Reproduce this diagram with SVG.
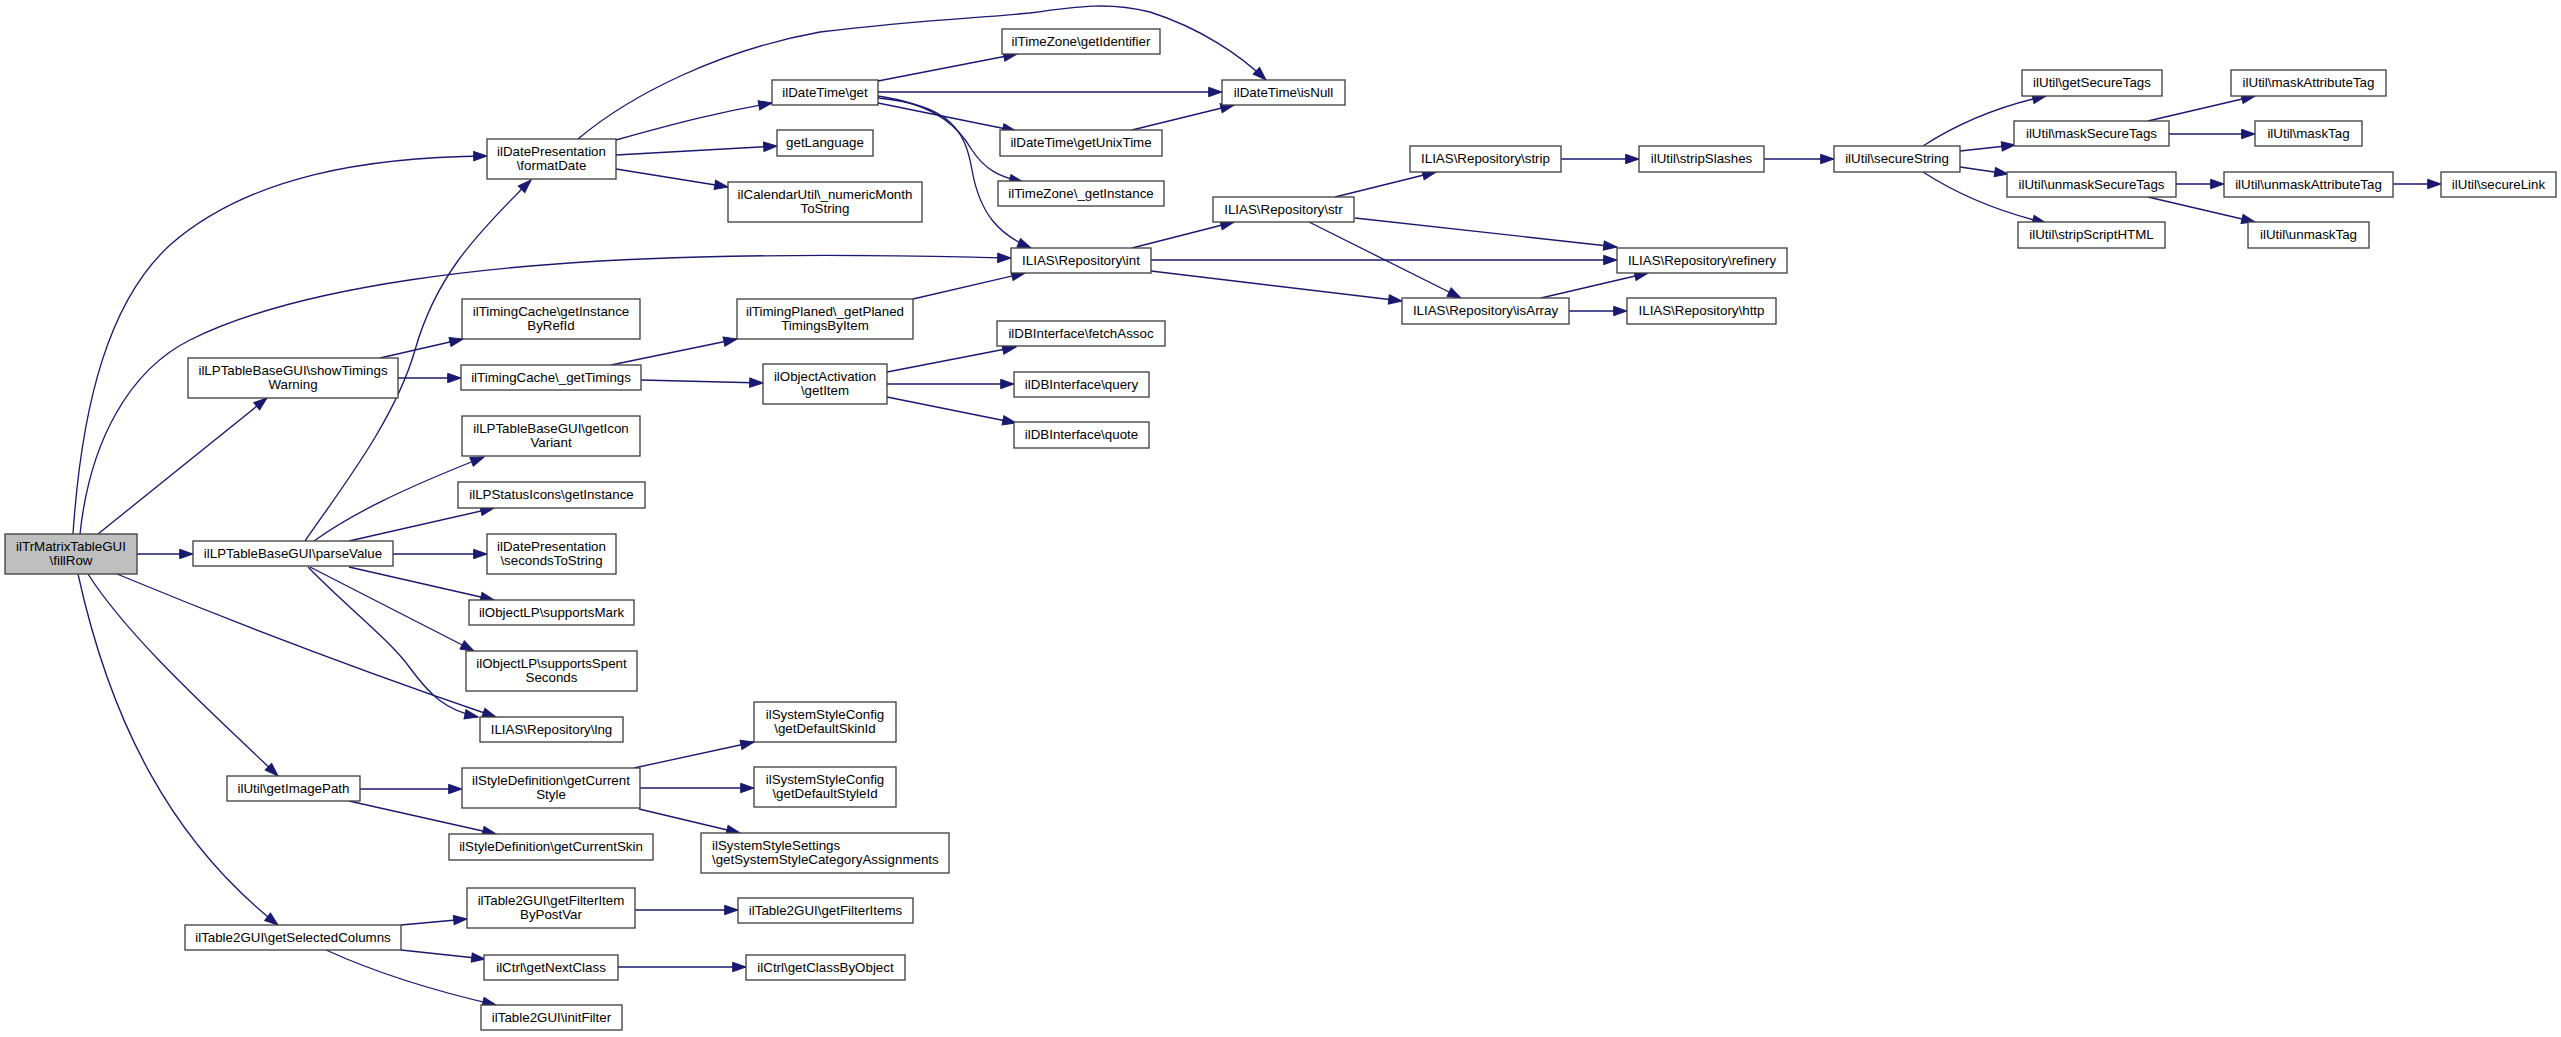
<svg xmlns="http://www.w3.org/2000/svg" width="2561" height="1037" viewBox="0 0 2561 1037">
<style>
.node rect{fill:#ffffff;stroke:#404040;stroke-width:1.33}
.root rect{fill:#bfbfbf}
.node text{font-family:"Liberation Sans",Arial,Helvetica,sans-serif;font-size:13.33px;fill:#000;text-anchor:middle}
.node text.l{text-anchor:start}
#edges path{fill:none;stroke:#191970;stroke-width:1.33;marker-end:url(#arr)}
</style>
<defs>
<marker id="arr" markerUnits="userSpaceOnUse" markerWidth="14" markerHeight="10" refX="13.3" refY="4.67" orient="auto" overflow="visible">
<path d="M0,0 L13.3,4.67 L0,9.33 z" fill="#191970" stroke="#191970" stroke-width="1"/>
</marker>
</defs>
<rect x="0" y="0" width="2561" height="1037" fill="#ffffff"/>
<g id="edges">
<path d="M73,534 C82,400 110,300 170,245 C250,175 370,157 487,156"/>
<path d="M80,534 C90,440 130,370 190,340 C300,285 500,262 700,257 C850,253 950,257 1011,258"/>
<path d="M98,534 L267,398"/>
<path d="M137,554 L193,554"/>
<path d="M117,574 Q300,650 496,717"/>
<path d="M88,574 C130,640 220,720 278,776"/>
<path d="M78,574 C110,720 170,840 278,925"/>
<path d="M305,541 C340,490 395,420 415,350 C435,280 470,240 531,180"/>
<path d="M314,541 C350,515 400,490 484,457"/>
<path d="M349,541 L494,508"/>
<path d="M393,554 L487,554"/>
<path d="M349,567 L494,600"/>
<path d="M310,567 L474,651"/>
<path d="M308,567 C350,610 390,640 410,668 C430,695 445,710 478,717"/>
<path d="M380,358 L463,339"/>
<path d="M398,378 L461,378"/>
<path d="M611,365 L737,339"/>
<path d="M641,380 L763,383"/>
<path d="M913,299 L1025,273"/>
<path d="M887,372 L1016,347"/>
<path d="M887,384 L1014,384"/>
<path d="M887,397 L1016,423"/>
<path d="M578,139 C630,95 720,50 820,32 C920,20 980,18 1030,13 C1080,6 1110,2 1150,12 C1200,28 1240,55 1266,80"/>
<path d="M616,140 C680,122 720,112 772,103"/>
<path d="M616,155 L777,146"/>
<path d="M616,169 L728,187"/>
<path d="M878,81 L1017,54"/>
<path d="M878,92 L1222,92"/>
<path d="M878,103 L1016,131"/>
<path d="M878,96 C940,105 960,130 972,150 C985,170 1000,177 1023,182"/>
<path d="M878,98 C950,105 965,130 972,170 C980,215 1000,235 1031,248"/>
<path d="M1132,130 L1234,105"/>
<path d="M1132,248 L1234,222"/>
<path d="M1151,260 L1617,260"/>
<path d="M1151,271 L1402,301"/>
<path d="M1335,197 L1436,172"/>
<path d="M1355,218 L1617,247"/>
<path d="M1309,222 L1461,298"/>
<path d="M1541,298 L1648,273"/>
<path d="M1569,311 L1627,311"/>
<path d="M1561,159 L1639,159"/>
<path d="M1764,159 L1834,159"/>
<path d="M1923,146 C1960,122 2000,106 2046,96"/>
<path d="M1960,151 L2015,145"/>
<path d="M1960,167 L2008,174"/>
<path d="M1923,172 C1960,196 2000,212 2046,223"/>
<path d="M2148,121 L2255,96"/>
<path d="M2169,134 L2255,134"/>
<path d="M2176,184 L2224,184"/>
<path d="M2148,197 L2255,222"/>
<path d="M2393,184 L2441,184"/>
<path d="M360,789 L462,789"/>
<path d="M349,801 L496,834"/>
<path d="M634,768 L754,742"/>
<path d="M640,788 L754,788"/>
<path d="M639,809 L740,833"/>
<path d="M401,925 L467,919"/>
<path d="M401,950 L485,959"/>
<path d="M326,950 C370,970 430,990 496,1005"/>
<path d="M635,910 L738,910"/>
<path d="M618,967 L746,967"/>
</g>
<g id="n_fillRow" class="node root"><rect x="5" y="534" width="132" height="40"/><text x="71" y="550.5">ilTrMatrixTableGUI</text><text x="71" y="565">\fillRow</text></g>
<g id="n_formatDate" class="node"><rect x="487" y="139" width="129" height="40"/><text x="551.5" y="155.5">ilDatePresentation</text><text x="551.5" y="170">\formatDate</text></g>
<g id="n_int" class="node"><rect x="1011" y="248" width="140" height="25"/><text x="1081" y="264.5">ILIAS\Repository\int</text></g>
<g id="n_showTimings" class="node"><rect x="188" y="358" width="210" height="40"/><text x="293" y="374.5">ilLPTableBaseGUI\showTimings</text><text x="293" y="389">Warning</text></g>
<g id="n_parseValue" class="node"><rect x="193" y="541" width="200" height="25"/><text x="293" y="557.5">ilLPTableBaseGUI\parseValue</text></g>
<g id="n_lng" class="node"><rect x="480" y="717" width="143" height="25"/><text x="551.5" y="733.5">ILIAS\Repository\lng</text></g>
<g id="n_getImagePath" class="node"><rect x="227" y="776" width="133" height="25"/><text x="293.5" y="792.5">ilUtil\getImagePath</text></g>
<g id="n_getSelectedColumns" class="node"><rect x="185" y="925" width="216" height="25"/><text x="293" y="941.5">ilTable2GUI\getSelectedColumns</text></g>
<g id="n_isNull" class="node"><rect x="1222" y="80" width="123" height="25"/><text x="1283.5" y="96.5">ilDateTime\isNull</text></g>
<g id="n_get" class="node"><rect x="772" y="80" width="106" height="25"/><text x="825" y="96.5">ilDateTime\get</text></g>
<g id="n_getLanguage" class="node"><rect x="777" y="130" width="96" height="26"/><text x="825" y="147">getLanguage</text></g>
<g id="n_numericMonth" class="node"><rect x="728" y="182" width="194" height="40"/><text x="825" y="198.5">ilCalendarUtil\_numericMonth</text><text x="825" y="213">ToString</text></g>
<g id="n_getIdentifier" class="node"><rect x="1002" y="29" width="158" height="25"/><text x="1081" y="45.5">ilTimeZone\getIdentifier</text></g>
<g id="n_getUnixTime" class="node"><rect x="1000" y="130" width="162" height="26"/><text x="1081" y="147">ilDateTime\getUnixTime</text></g>
<g id="n_tzGetInstance" class="node"><rect x="998" y="181" width="166" height="25"/><text x="1081" y="197.5">ilTimeZone\_getInstance</text></g>
<g id="n_str" class="node"><rect x="1213" y="197" width="141" height="25"/><text x="1283.5" y="213.5">ILIAS\Repository\str</text></g>
<g id="n_refinery" class="node"><rect x="1617" y="248" width="170" height="25"/><text x="1702" y="264.5">ILIAS\Repository\refinery</text></g>
<g id="n_isArray" class="node"><rect x="1402" y="298" width="167" height="26"/><text x="1485.5" y="315">ILIAS\Repository\isArray</text></g>
<g id="n_strip" class="node"><rect x="1410" y="146" width="151" height="26"/><text x="1485.5" y="163">ILIAS\Repository\strip</text></g>
<g id="n_http" class="node"><rect x="1627" y="298" width="149" height="26"/><text x="1701.5" y="315">ILIAS\Repository\http</text></g>
<g id="n_stripSlashes" class="node"><rect x="1639" y="146" width="125" height="26"/><text x="1701.5" y="163">ilUtil\stripSlashes</text></g>
<g id="n_secureString" class="node"><rect x="1834" y="146" width="126" height="26"/><text x="1897" y="163">ilUtil\secureString</text></g>
<g id="n_getSecureTags" class="node"><rect x="2022" y="70" width="140" height="26"/><text x="2092" y="87">ilUtil\getSecureTags</text></g>
<g id="n_maskSecureTags" class="node"><rect x="2014" y="121" width="155" height="25"/><text x="2091.5" y="137.5">ilUtil\maskSecureTags</text></g>
<g id="n_unmaskSecureTags" class="node"><rect x="2007" y="172" width="169" height="25"/><text x="2091.5" y="188.5">ilUtil\unmaskSecureTags</text></g>
<g id="n_stripScriptHTML" class="node"><rect x="2018" y="222" width="147" height="26"/><text x="2091.5" y="239">ilUtil\stripScriptHTML</text></g>
<g id="n_maskAttributeTag" class="node"><rect x="2231" y="70" width="155" height="26"/><text x="2308.5" y="87">ilUtil\maskAttributeTag</text></g>
<g id="n_maskTag" class="node"><rect x="2255" y="121" width="107" height="25"/><text x="2308.5" y="137.5">ilUtil\maskTag</text></g>
<g id="n_unmaskAttributeTag" class="node"><rect x="2224" y="172" width="169" height="25"/><text x="2308.5" y="188.5">ilUtil\unmaskAttributeTag</text></g>
<g id="n_unmaskTag" class="node"><rect x="2248" y="222" width="121" height="26"/><text x="2308.5" y="239">ilUtil\unmaskTag</text></g>
<g id="n_secureLink" class="node"><rect x="2441" y="172" width="115" height="25"/><text x="2498.5" y="188.5">ilUtil\secureLink</text></g>
<g id="n_getInstanceByRefId" class="node"><rect x="462" y="299" width="178" height="40"/><text x="551" y="315.5">ilTimingCache\getInstance</text><text x="551" y="330">ByRefId</text></g>
<g id="n_getTimings" class="node"><rect x="461" y="365" width="180" height="25"/><text x="551" y="381.5">ilTimingCache\_getTimings</text></g>
<g id="n_getPlaned" class="node"><rect x="737" y="299" width="176" height="40"/><text x="825" y="315.5">ilTimingPlaned\_getPlaned</text><text x="825" y="330">TimingsByItem</text></g>
<g id="n_getItem" class="node"><rect x="763" y="364" width="124" height="40"/><text x="825" y="380.5">ilObjectActivation</text><text x="825" y="395">\getItem</text></g>
<g id="n_fetchAssoc" class="node"><rect x="997" y="321" width="168" height="25"/><text x="1081" y="337.5">ilDBInterface\fetchAssoc</text></g>
<g id="n_query" class="node"><rect x="1014" y="372" width="135" height="25"/><text x="1081.5" y="388.5">ilDBInterface\query</text></g>
<g id="n_quote" class="node"><rect x="1014" y="422" width="135" height="26"/><text x="1081.5" y="439">ilDBInterface\quote</text></g>
<g id="n_getIconVariant" class="node"><rect x="462" y="416" width="178" height="40"/><text x="551" y="432.5">ilLPTableBaseGUI\getIcon</text><text x="551" y="447">Variant</text></g>
<g id="n_statusIcons" class="node"><rect x="458" y="482" width="187" height="26"/><text x="551.5" y="499">ilLPStatusIcons\getInstance</text></g>
<g id="n_secondsToString" class="node"><rect x="487" y="534" width="129" height="40"/><text x="551.5" y="550.5">ilDatePresentation</text><text x="551.5" y="565">\secondsToString</text></g>
<g id="n_supportsMark" class="node"><rect x="469" y="600" width="165" height="25"/><text x="551.5" y="616.5">ilObjectLP\supportsMark</text></g>
<g id="n_supportsSpent" class="node"><rect x="466" y="651" width="171" height="40"/><text x="551.5" y="667.5">ilObjectLP\supportsSpent</text><text x="551.5" y="682">Seconds</text></g>
<g id="n_getCurrentStyle" class="node"><rect x="462" y="768" width="178" height="40"/><text x="551" y="784.5">ilStyleDefinition\getCurrent</text><text x="551" y="799">Style</text></g>
<g id="n_getCurrentSkin" class="node"><rect x="449" y="834" width="204" height="26"/><text x="551" y="851">ilStyleDefinition\getCurrentSkin</text></g>
<g id="n_defaultSkin" class="node"><rect x="754" y="702" width="142" height="40"/><text x="825" y="718.5">ilSystemStyleConfig</text><text x="825" y="733">\getDefaultSkinId</text></g>
<g id="n_defaultStyle" class="node"><rect x="754" y="767" width="142" height="40"/><text x="825" y="783.5">ilSystemStyleConfig</text><text x="825" y="798">\getDefaultStyleId</text></g>
<g id="n_catAssign" class="node"><rect x="701" y="833" width="248" height="40"/><text class="l" x="712" y="849.5">ilSystemStyleSettings</text><text class="l" x="712" y="864">\getSystemStyleCategoryAssignments</text></g>
<g id="n_filterItemByPostVar" class="node"><rect x="467" y="888" width="168" height="40"/><text x="551" y="904.5">ilTable2GUI\getFilterItem</text><text x="551" y="919">ByPostVar</text></g>
<g id="n_getFilterItems" class="node"><rect x="738" y="898" width="175" height="25"/><text x="825.5" y="914.5">ilTable2GUI\getFilterItems</text></g>
<g id="n_getNextClass" class="node"><rect x="484" y="955" width="134" height="25"/><text x="551" y="971.5">ilCtrl\getNextClass</text></g>
<g id="n_getClassByObject" class="node"><rect x="746" y="955" width="159" height="25"/><text x="825.5" y="971.5">ilCtrl\getClassByObject</text></g>
<g id="n_initFilter" class="node"><rect x="481" y="1005" width="141" height="25"/><text x="551.5" y="1021.5">ilTable2GUI\initFilter</text></g>
</svg>
